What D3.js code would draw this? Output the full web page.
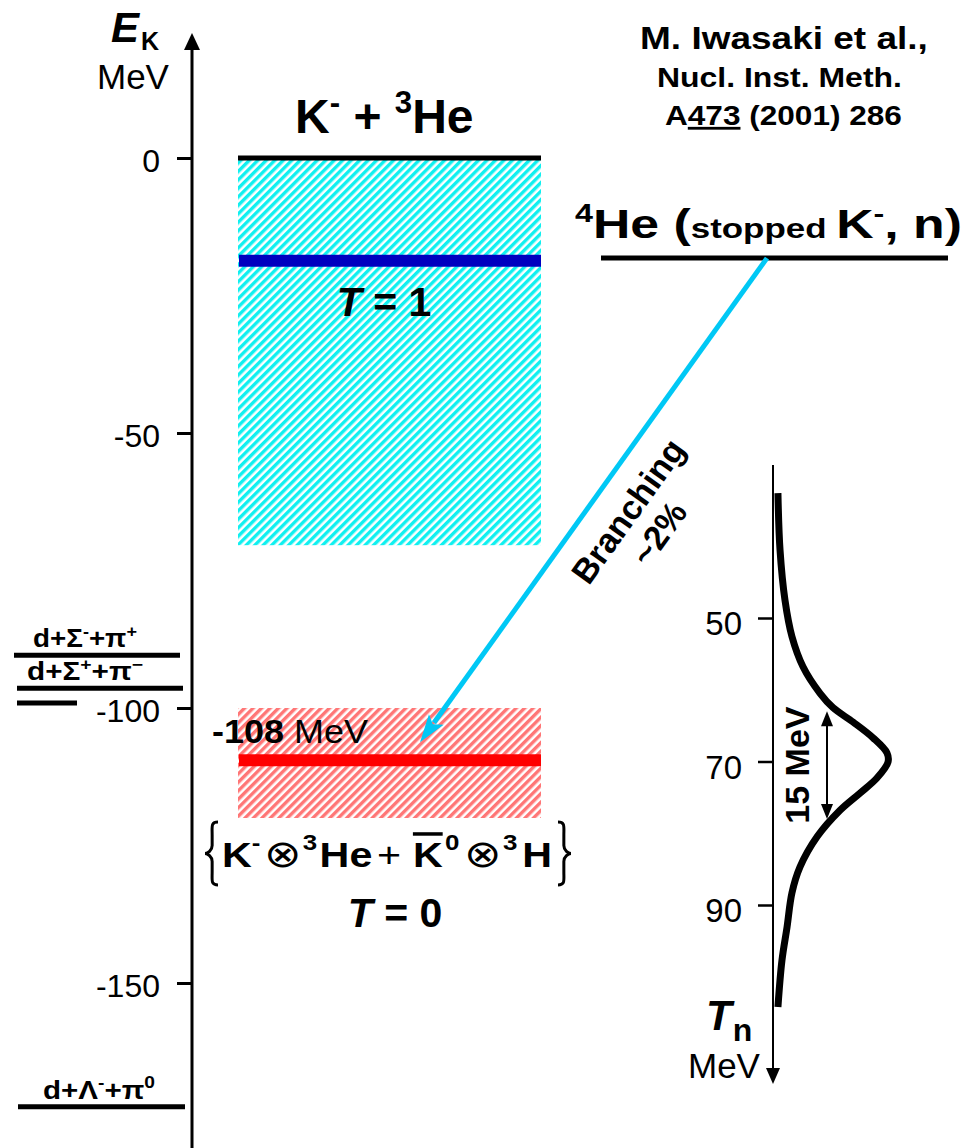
<!DOCTYPE html>
<html><head><meta charset="utf-8">
<script src="https://cdn.jsdelivr.net/npm/d3@7"></script>
<style>
body{margin:0;background:#fff}
text{font-family:"Liberation Sans",Arial,Helvetica,sans-serif;fill:#000}
</style>
</head><body>
<svg id="c" width="969" height="1148" xmlns="http://www.w3.org/2000/svg"></svg>
<script>
// ---------- data ----------
const energyTicks = [0, -50, -100, -150];
const tnTicks = [50, 70, 90];
const bandNames = ["1", "0"];            // isospin T
const bandTop = [0, -100];
const bandBottom = [-70.4, -120];
const bandLevel = [-18.7, -109.5];
const thresholdNames = ["d+Σ^-+π^+", "d+Σ^++π^−", "", "d+Λ^-+π^0"];
const thresholdE = [-90.4, -96.4, -99.1, -172.5];
const kHe3Threshold = 0;
const stoppedLevel = -18.2;
const spectrumTn = [32.6, 40.5, 47.5, 52.6, 56.8, 60.5, 62.5, 64.5, 66.7, 68.8, 70.1, 72.3, 74.4, 76.8, 80.5, 84.7, 88.3, 93.1, 97.7, 104.2];
const spectrumI  = [0.043, 0.061, 0.104, 0.165, 0.261, 0.409, 0.522, 0.696, 0.870, 0.991, 1.0, 0.904, 0.757, 0.583, 0.383, 0.235, 0.165, 0.122, 0.078, 0.043];
const widthRange = [63, 78];
const boundLabel = "-108";

// ---------- setup ----------
const svg = d3.select("#c");
const defs = svg.append("defs");
function hatch(id, color) {
  const p = defs.append("pattern").attr("id", id).attr("patternUnits", "userSpaceOnUse")
    .attr("width", 6).attr("height", 6).attr("patternTransform", "rotate(45)");
  p.append("rect").attr("width", 6).attr("height", 6).attr("fill", "#fff");
  p.append("rect").attr("width", 3.4).attr("height", 6).attr("fill", color);
}
hatch("hc", "#10f0f0");
hatch("hr", "#ff7676");

const yE = d3.scaleLinear().domain([0, -150]).range([158, 983]);
const yT = d3.scaleLinear().domain([50, 90]).range([618, 905]);
const xI = d3.scaleLinear().domain([0, 1]).range([773, 888]);
const FONT = '"Liberation Sans",Arial,Helvetica,sans-serif';

function rich(sel, str, size, weight) {
  const parts = str.split(/(\^.|_.)/).filter(s => s.length);
  let off = 0;
  parts.forEach(p => {
    const t = sel.append("tspan").attr("font-weight", weight || "bold");
    if (p[0] === "^" || p[0] === "_") {
      const rise = p[0] === "^" ? -size * 0.42 : size * 0.25;
      t.attr("font-size", size * 0.65).attr("dy", rise - off).text(p.slice(1));
      off = rise;
    } else {
      t.attr("font-size", size).attr("dy", -off).text(p);
      off = 0;
    }
  });
  return sel;
}
function fit(sel, x0, x1) {
  const b = sel.node().getBBox();
  const s = (x1 - x0) / b.width;
  sel.attr("transform", `translate(${x0},0) scale(${s},1) translate(${-b.x},0)`);
}

// ---------- hatched bands ----------
const bandFill = ["url(#hc)", "url(#hr)"];
svg.selectAll("rect.band").data(bandTop).join("rect").attr("class", "band")
  .attr("x", 238).attr("width", 303)
  .attr("y", (d) => yE(d))
  .attr("height", (d, i) => yE(bandBottom[i]) - yE(d))
  .attr("fill", (d, i) => bandFill[i]);

// levels
svg.append("line").attr("x1", 238).attr("x2", 541)
  .attr("y1", yE(kHe3Threshold)).attr("y2", yE(kHe3Threshold))
  .attr("stroke", "#000").attr("stroke-width", 5);
const levelColor = ["#0000c0", "#ff0000"];
svg.selectAll("line.lvl").data(bandLevel).join("line").attr("class", "lvl")
  .attr("x1", 239).attr("x2", 541)
  .attr("y1", d => yE(d)).attr("y2", d => yE(d))
  .attr("stroke", (d, i) => levelColor[i]).attr("stroke-width", 12);

// ---------- left axis ----------
svg.append("line").attr("x1", 192).attr("x2", 192).attr("y1", 46).attr("y2", 1148)
  .attr("stroke", "#000").attr("stroke-width", 3);
svg.append("path").attr("d", "M192,33 L184,50 L200,50 Z").attr("fill", "#000");
const ax = svg.append("g").attr("transform", "translate(192,0)")
  .call(d3.axisLeft(yE).tickValues(energyTicks).tickSize(15).tickPadding(17).tickFormat(d => String(d)));
ax.select(".domain").remove();
ax.selectAll(".tick line").attr("stroke", "#000").attr("stroke-width", 3);
ax.selectAll(".tick text").attr("font-size", 32).attr("font-family", FONT).attr("fill", "#000").attr("dy", "0.42em");

const ek = svg.append("text").attr("x", 111).attr("y", 42);
ek.append("tspan").attr("font-size", 42).attr("font-weight", "bold").attr("font-style", "italic").text("E");
ek.append("tspan").attr("font-size", 25).attr("font-weight", "bold").attr("dy", 8).attr("dx", 2).text("K");
svg.append("text").attr("x", 97).attr("y", 89).attr("font-size", 35).text("MeV");

// thresholds
svg.selectAll("line.thr").data(thresholdE).join("line").attr("class", "thr")
  .attr("x1", (d, i) => [14, 17, 17, 18][i]).attr("x2", (d, i) => [180, 183, 77, 185][i])
  .attr("y1", d => yE(d)).attr("y2", d => yE(d))
  .attr("stroke", "#000").attr("stroke-width", 5);
const thrX = [[33, 137], [27, 143], null, [43, 155]];
thresholdNames.forEach((n, i) => {
  if (!n) return;
  const t = svg.append("text").attr("y", yE(thresholdE[i]) - 8);
  rich(t, n, 25);
  fit(t, thrX[i][0], thrX[i][1]);
});

// ---------- titles ----------
const t1 = svg.append("text").attr("x", 295).attr("y", 133);
rich(t1, "K^- + ^3He", 48);
const tb = svg.append("text").attr("x", 384).attr("y", 316).attr("text-anchor", "middle").attr("font-size", 41).attr("font-weight", "bold");
tb.append("tspan").attr("font-style", "italic").text("T");
tb.append("tspan").text(" = " + bandNames[0]);

const tb0 = svg.append("text").attr("x", 395).attr("y", 927).attr("text-anchor", "middle").attr("font-size", 41).attr("font-weight", "bold");
tb0.append("tspan").attr("font-style", "italic").text("T");
tb0.append("tspan").text(" = " + bandNames[1]);

const m108 = svg.append("text").attr("y", 743).attr("font-size", 33);
m108.append("tspan").attr("font-weight", "bold").text(boundLabel);
m108.append("tspan").text(" MeV");
fit(m108, 212, 368);

// formula
const fx = svg.append("text").attr("y", 867);
const F = 35, S = 22, R = 17;
fx.append("tspan").attr("font-size", F).attr("font-weight", "bold").text("K");
fx.append("tspan").attr("font-size", S).attr("font-weight", "bold").attr("dy", -R).text("-");
fx.append("tspan").attr("font-size", F + 3).attr("dy", R).attr("dx", 3).text("⊗");
fx.append("tspan").attr("font-size", S).attr("font-weight", "bold").attr("dy", -R).attr("dx", 1).text("3");
fx.append("tspan").attr("font-size", F).attr("font-weight", "bold").attr("dy", R).attr("dx", 2).text("He");
fx.append("tspan").attr("font-size", F).attr("dx", 4).text("+");
fx.append("tspan").attr("font-size", F).attr("font-weight", "bold").attr("dx", 10).style("text-decoration", "overline").text("K");
fx.append("tspan").attr("font-size", S).attr("font-weight", "bold").attr("dy", -R).attr("dx", 2).text("0");
fx.append("tspan").attr("font-size", F + 3).attr("dy", R).attr("dx", 4).text("⊗");
fx.append("tspan").attr("font-size", S).attr("font-weight", "bold").attr("dy", -R).attr("dx", 1).text("3");
fx.append("tspan").attr("font-size", F).attr("font-weight", "bold").attr("dy", R).attr("dx", 4).text("H");
fit(fx, 222, 552);
function brace(x, dir) {
  const y0 = 822, y1 = 885, ym = (y0 + y1) / 2, w = 13 * dir, m = x + w * 0.45;
  return `M${x},${y0} C${x + w*0.55},${y0} ${m},${y0+4} ${m},${y0+13} L${m},${ym-8} C${m},${ym-3} ${x+w*0.8},${ym} ${x+w},${ym}` +
         ` C${x+w*0.8},${ym} ${m},${ym+3} ${m},${ym+8} L${m},${y1-13} C${m},${y1-4} ${x+w*0.55},${y1} ${x},${y1}`;
}
svg.append("path").attr("d", brace(218, -1)).attr("fill", "none").attr("stroke", "#000").attr("stroke-width", 3);
svg.append("path").attr("d", brace(558, 1)).attr("fill", "none").attr("stroke", "#000").attr("stroke-width", 3);

// citation
const c1 = svg.append("text").attr("y", 49).attr("font-size", 31).attr("font-weight", "bold").text("M. Iwasaki et al.,");
fit(c1, 640, 928);
const c2 = svg.append("text").attr("y", 87).attr("font-size", 28).attr("font-weight", "bold").text("Nucl. Inst. Meth.");
fit(c2, 657, 902);
const c3 = svg.append("text").attr("y", 125).attr("font-size", 28).attr("font-weight", "bold");
c3.append("tspan").text("A");
c3.append("tspan").style("text-decoration", "underline").text("473");
c3.append("tspan").text(" (2001) 286");
fit(c3, 665, 902);

// 4He (stopped K-, n)
const h4 = svg.append("text").attr("y", 238).attr("font-weight", "bold");
h4.append("tspan").attr("font-size", 25).attr("dy", -16).text("4");
h4.append("tspan").attr("font-size", 40).attr("dy", 16).text("He (");
h4.append("tspan").attr("font-size", 27).text("stopped ");
h4.append("tspan").attr("font-size", 40).text("K");
h4.append("tspan").attr("font-size", 25).attr("dy", -16).text("-");
h4.append("tspan").attr("font-size", 40).attr("dy", 16).text(", n)");
fit(h4, 575, 962);
svg.append("line").attr("x1", 601).attr("x2", 948)
  .attr("y1", yE(stoppedLevel)).attr("y2", yE(stoppedLevel))
  .attr("stroke", "#000").attr("stroke-width", 5);

// branching arrow
const ax0 = 767, ay0 = yE(stoppedLevel), ax1 = 420, ay1 = yE(bandLevel[1]) - 18;
const ang = Math.atan2(ay1 - ay0, ax1 - ax0);
const hl = 28, hw = 9;
const bx = ax1 - hl * Math.cos(ang), by = ay1 - hl * Math.sin(ang);
svg.append("line").attr("x1", ax0).attr("y1", ay0).attr("x2", bx + 4 * Math.cos(ang)).attr("y2", by + 4 * Math.sin(ang))
  .attr("stroke", "#00c8f5").attr("stroke-width", 5);
svg.append("path").attr("d",
  `M${ax1},${ay1} L${bx - hw * Math.sin(ang)},${by + hw * Math.cos(ang)} L${bx + 6*Math.cos(ang)},${by + 6*Math.sin(ang)} L${bx + hw * Math.sin(ang)},${by - hw * Math.cos(ang)} Z`)
  .attr("fill", "#00c8f5");
const deg = Math.atan2(ay0 - ay1, ax0 - ax1) * 180 / Math.PI;
const br = svg.append("g").attr("transform", `translate(628,511) rotate(${deg})`);
br.append("text").attr("text-anchor", "middle").attr("y", 12).attr("font-size", 34).attr("font-weight", "bold").text("Branching");
br.append("text").attr("text-anchor", "middle").attr("y", 50).attr("font-size", 34).attr("font-weight", "bold").text("~2%");

// ---------- right spectrum ----------
svg.append("line").attr("x1", 773).attr("x2", 773).attr("y1", 465).attr("y2", 1072)
  .attr("stroke", "#000").attr("stroke-width", 2);
svg.append("path").attr("d", "M773,1084 L766,1068 L780,1068 Z").attr("fill", "#000");
const rx = svg.append("g").attr("transform", "translate(773,0)")
  .call(d3.axisLeft(yT).tickValues(tnTicks).tickSize(15).tickPadding(16).tickFormat(d => String(d)));
rx.select(".domain").remove();
rx.selectAll(".tick line").attr("stroke", "#000").attr("stroke-width", 2.5);
rx.selectAll(".tick text").attr("font-size", 33).attr("font-family", FONT).attr("fill", "#000").attr("dy", "0.5em");

const line = d3.line().x((d, i) => xI(spectrumI[i])).y(d => yT(d)).curve(d3.curveCatmullRom.alpha(0.5));
svg.append("path").attr("d", line(spectrumTn)).attr("fill", "none")
  .attr("stroke", "#000").attr("stroke-width", 7).attr("stroke-linejoin", "round");

// 15 MeV width arrow
const wx = 827;
svg.append("line").attr("x1", wx).attr("x2", wx).attr("y1", yT(widthRange[0]) + 12).attr("y2", yT(widthRange[1]) - 12)
  .attr("stroke", "#000").attr("stroke-width", 2);
svg.append("path").attr("d", `M${wx},${yT(widthRange[0])} L${wx-6},${yT(widthRange[0])+15} L${wx+6},${yT(widthRange[0])+15} Z`).attr("fill", "#000");
svg.append("path").attr("d", `M${wx},${yT(widthRange[1])} L${wx-6},${yT(widthRange[1])-15} L${wx+6},${yT(widthRange[1])-15} Z`).attr("fill", "#000");
svg.append("text").attr("transform", `translate(809,${(yT(widthRange[0]) + yT(widthRange[1])) / 2}) rotate(-90)`)
  .attr("text-anchor", "middle").attr("font-size", 34).attr("font-weight", "bold")
  .text((widthRange[1] - widthRange[0]) + " MeV");

const tn = svg.append("text").attr("x", 706).attr("y", 1030);
tn.append("tspan").attr("font-size", 42).attr("font-weight", "bold").attr("font-style", "italic").text("T");
tn.append("tspan").attr("font-size", 32).attr("font-weight", "bold").attr("dy", 11).attr("dx", 1).text("n");
svg.append("text").attr("x", 688).attr("y", 1078).attr("font-size", 35).text("MeV");
</script>
</body></html>
